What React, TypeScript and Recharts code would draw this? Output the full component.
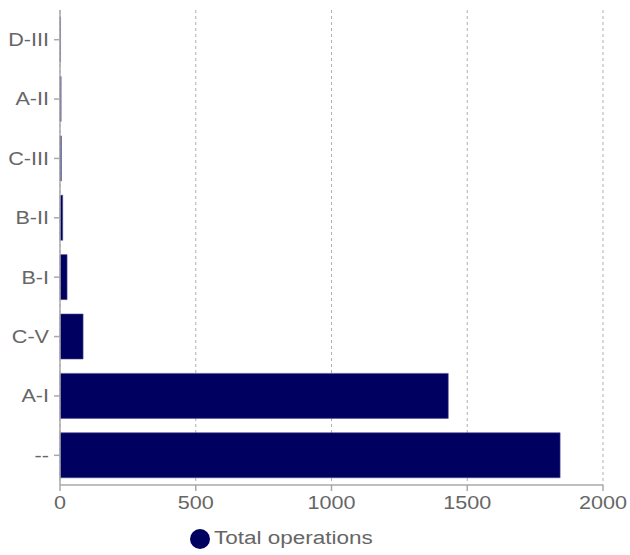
import { BarChart, Bar, XAxis, YAxis, CartesianGrid, Legend } from 'recharts'

const categories = ['D-III', 'A-II', 'C-III', 'B-II', 'B-I', 'C-V', 'A-I', '--']
const totalOperations = [2, 4, 5, 10, 26, 85, 1430, 1842]
const xTicks = [0, 500, 1000, 1500, 2000]

const data = categories.map((name, i) => ({ name, total: totalOperations[i] }))

// the reference text is drawn a little wider than it is tall
const STRETCH = 1.2

function WideTick(props: any) {
  const { x, y, payload, textAnchor, vertical } = props
  return (
    <g transform={`translate(${x},${y})`}>
      <text
        transform={`scale(${STRETCH},1)`}
        textAnchor={textAnchor}
        dy={vertical ? '0.355em' : '0.9em'}
        fill="#666"
        fontSize={18}
      >
        {payload.value}
      </text>
    </g>
  )
}

export default function App() {
  return (
    <div style={{ position: 'absolute', left: 0, top: 0, fontFamily: 'Arial, "Liberation Sans", sans-serif' }}>
      <BarChart
        width={630}
        height={555}
        data={data}
        layout="vertical"
        margin={{ top: 10, right: 27, bottom: 0, left: 0 }}
        barCategoryGap="12%"
      >
        <CartesianGrid horizontal={false} strokeDasharray="3 3" stroke="#b0b0b0" />
        <XAxis
          type="number"
          domain={[0, 2000]}
          ticks={xTicks}
          height={43}
          stroke="#aaa"
          tick={<WideTick vertical={false} />}
          strokeWidth={1.5}
        />
        <YAxis
          type="category"
          dataKey="name"
          width={60}
          stroke="#aaa"
          tickMargin={5}
          tick={<WideTick vertical />}
          strokeWidth={1.5}
        />
        <Legend
          iconType="circle"
          iconSize={20}
          height={27}
          align="left"
          wrapperStyle={{ fontSize: 18, paddingLeft: 190 }}
          formatter={(v) => (
            <span
              style={{
                color: '#666',
                display: 'inline-block',
                transform: `scaleX(${STRETCH + 0.05})`,
                transformOrigin: 'left center',
              }}
            >
              {v}
            </span>
          )}
        />
        <Bar
          dataKey="total"
          name="Total operations"
          fill="#000060"
          stroke="#4b4b8f"
          strokeWidth={0.6}
          isAnimationActive={false}
        />
      </BarChart>
    </div>
  )
}
